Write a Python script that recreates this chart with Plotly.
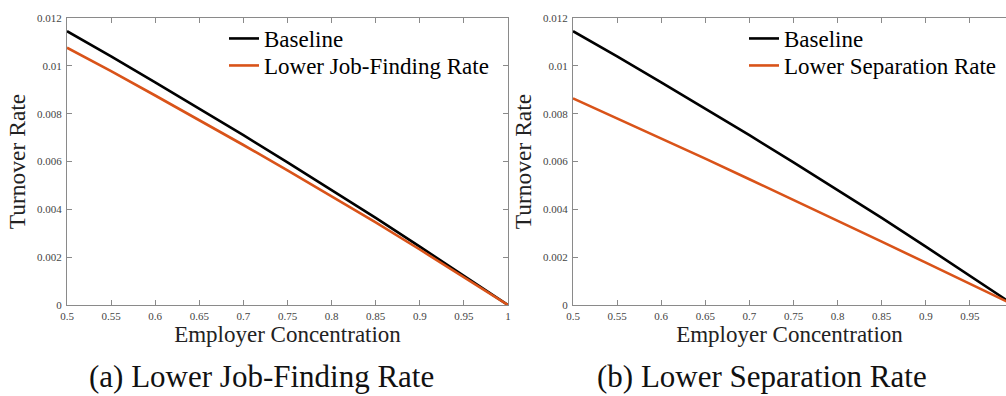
import plotly.graph_objects as go

# ---- data ----
concentration = [0.5, 0.55, 0.6, 0.65, 0.7, 0.75, 0.8, 0.85, 0.9, 0.95, 1.0]
baseline = [0.01145, 0.01040, 0.00931, 0.00822, 0.00710, 0.00596, 0.00481, 0.00364, 0.00244, 0.00123, 0.0]
lower_job_finding = [0.01076, 0.00978, 0.00876, 0.00774, 0.00669, 0.00563, 0.00455, 0.00345, 0.00232, 0.00117, 0.0]
lower_separation = [0.00864, 0.00781, 0.00697, 0.00612, 0.00526, 0.00440, 0.00353, 0.00265, 0.00177, 0.00089, 0.0]

x_tickvals = [0.5, 0.55, 0.6, 0.65, 0.7, 0.75, 0.8, 0.85, 0.9, 0.95, 1.0]
x_ticktext = ["0.5", "0.55", "0.6", "0.65", "0.7", "0.75", "0.8", "0.85", "0.9", "0.95", "1"]
y_tickvals = [0, 0.002, 0.004, 0.006, 0.008, 0.01, 0.012]
y_ticktext = ["0", "0.002", "0.004", "0.006", "0.008", "0.01", "0.012"]

captions = ["(a) Lower Job-Finding Rate", "(b) Lower Separation Rate"]

BLACK = "#000000"
ORANGE = "#D95319"
AXIS_GREY = "#8a8a8a"
SERIF = "Liberation Serif, Times New Roman, serif"

W, H = 1006, 396
fig = go.Figure()

fig.add_trace(go.Scatter(x=concentration, y=baseline, mode="lines", name="Baseline",
                         line=dict(color=BLACK, width=2.6), xaxis="x", yaxis="y", legend="legend"))
fig.add_trace(go.Scatter(x=concentration, y=lower_job_finding, mode="lines", name="Lower Job-Finding Rate",
                         line=dict(color=ORANGE, width=2.6), xaxis="x", yaxis="y", legend="legend2"))
fig.add_trace(go.Scatter(x=concentration, y=baseline, mode="lines", name="Baseline",
                         line=dict(color=BLACK, width=2.6), xaxis="x2", yaxis="y2", legend="legend3"))
fig.add_trace(go.Scatter(x=concentration, y=lower_separation, mode="lines", name="Lower Separation Rate",
                         line=dict(color=ORANGE, width=2.6), xaxis="x2", yaxis="y2", legend="legend4"))

px_left = (67, 508)
px_right = (573, 1006)
top_px, bot_px = 18, 305
ydom = [1 - bot_px / H, 1 - top_px / H]

common_x = dict(tickvals=x_tickvals, ticktext=x_ticktext, ticks="inside", ticklen=5, tickcolor=AXIS_GREY,
                showline=True, linecolor=AXIS_GREY, linewidth=1, showgrid=False, zeroline=False,
                automargin=False,
                tickfont=dict(family=SERIF, size=11, color="#444444"), ticklabelstandoff=1,
                title=dict(text="Employer Concentration", font=dict(family=SERIF, size=23, color="#222222"),
                           standoff=4))
common_y = dict(tickvals=y_tickvals, ticktext=y_ticktext, ticks="inside", ticklen=5, tickcolor=AXIS_GREY,
                showline=True, linecolor=AXIS_GREY, linewidth=1, showgrid=False, zeroline=False,
                automargin=False,
                range=[0, 0.012], tickfont=dict(family=SERIF, size=11, color="#444444"), ticklabelstandoff=2,
                title=dict(text="Turnover Rate", font=dict(family=SERIF, size=23.5, color="#222222"), standoff=4))

scale = (px_left[1] - px_left[0]) / 0.5
right_max = 0.5 + (px_right[1] - px_right[0]) / scale

legend_font = dict(family=SERIF, size=23, color="#000000")


def legend_at(xpx, ypx):
    return dict(x=xpx / W, y=1 - ypx / H, xanchor="left", yanchor="top", bgcolor="rgba(0,0,0,0)",
                font=legend_font, tracegroupgap=0, itemwidth=30)


fig.update_layout(
    width=W, height=H, margin=dict(l=0, r=0, t=0, b=0, autoexpand=False),
    paper_bgcolor="white", plot_bgcolor="white",
    xaxis=dict(domain=[px_left[0] / W, px_left[1] / W], range=[0.5, 1.0], anchor="y", mirror="ticks", **common_x),
    yaxis=dict(domain=ydom, anchor="x", mirror="ticks", **common_y),
    xaxis2=dict(domain=[px_right[0] / W, 1.0], range=[0.5, right_max], anchor="y2", mirror="ticks", **common_x),
    yaxis2=dict(domain=ydom, anchor="x2", mirror=False, **common_y),
    legend=legend_at(224, 17),
    legend2=legend_at(224, 44),
    legend3=legend_at(744, 17),
    legend4=legend_at(744, 44),
    showlegend=True,
)

fig.add_annotation(text=captions[0], x=261 / W, y=1 - 376 / H, xref="paper", yref="paper",
                   showarrow=False, xanchor="center", yanchor="middle",
                   font=dict(family=SERIF, size=31, color="#111111"))
fig.add_annotation(text=captions[1], x=762 / W, y=1 - 376 / H, xref="paper", yref="paper",
                   showarrow=False, xanchor="center", yanchor="middle",
                   font=dict(family=SERIF, size=31, color="#111111"))

fig.write_html("out.html")
